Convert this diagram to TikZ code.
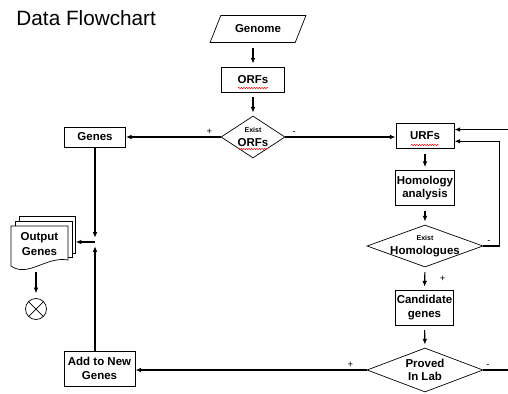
\documentclass[tikz,border=0pt]{standalone}
\usepackage{fontspec}
\setmainfont{Liberation Sans}
\usetikzlibrary{arrows.meta,shapes.geometric,decorations.pathmorphing,calc}
\newcommand{\existtxt}{{\fontsize{6}{7}\selectfont Exist}}

\begin{document}
\begin{tikzpicture}
[x=0.03cm, y=-0.03cm, line width=1pt, >={Latex[length=5pt,width=4pt]},
box/.style={draw,rectangle,line width=0.6pt,inner sep=1pt,align=center,
  font=\fontsize{9.8}{11.5}\selectfont\bfseries},
dec/.style={draw,diamond,line width=0.6pt,inner xsep=-6pt,inner ysep=0pt,align=center,
  font=\fontsize{9.8}{11.5}\selectfont\bfseries},
io/.style={draw,trapezium,trapezium left angle=64,trapezium right angle=116,
  trapezium stretches=true,line width=0.6pt,font=\fontsize{9.8}{11.5}\selectfont\bfseries},
sgn/.style={font=\fontsize{8}{9}\selectfont,inner sep=1.5pt},
down/.style={->,shorten <=4pt,shorten >=2.5pt},
page/.style={line width=0.6pt,fill=white},
squig/.style={red,line width=0.4pt,decorate,decoration={snake,amplitude=0.6pt,segment length=2.2pt}}]

\useasboundingbox (0,0) rectangle (508,393);

\node (title) at (12,25) [anchor=base west,font=\fontsize{17.7}{20}\selectfont] {Data Flowchart};

\node (genome) at (258,29) [io,minimum width=2.88cm,minimum height=0.81cm] {Genome};
\node (orfs) at (253,79.5) [box,minimum width=1.89cm,minimum height=0.75cm] {ORFs};
\node (exorfs) at (253,137) [dec,aspect=1.5,minimum width=1.92cm,minimum height=1.26cm] {\existtxt\\ORFs};
\node (genes) at (95,137) [box,minimum width=1.83cm,minimum height=0.6cm] {Genes};
\node (urfs) at (425,136) [box,minimum width=1.74cm,minimum height=0.75cm] {URFs};
\node (homol) at (425,188) [box,minimum width=1.74cm,minimum height=1.05cm] {Homology\\analysis};
\node (exhom) at (425,246) [dec,aspect=2.76,minimum width=3.48cm,minimum height=1.26cm] {\existtxt\\Homologues};
\node (cand) at (424.5,307.5) [box,minimum width=1.74cm,minimum height=1.05cm] {Candidate\\genes};
\node (proved) at (425,370) [dec,aspect=2.64,minimum width=3.48cm,minimum height=1.32cm] {Proved\\In Lab};
\node (addnew) at (99.5,368.5) [box,minimum width=2.13cm,minimum height=1.05cm] {Add to New\\Genes};

% output pages
\draw[page] (19,221) -- (19,216) -- (75,216) -- (75,253) -- (72,253);
\draw[page] (15,226) -- (15,221) -- (72,221) -- (72,257) -- (68,257);
\draw[page] (11,226) -- (68,226) -- (68,260) .. controls (46,256) and (28,278) .. (11,266) -- cycle;
\node (out) at (39.5,244) [minimum width=1.71cm,minimum height=1.14cm,align=center,
  font=\fontsize{9.8}{12.5}\selectfont\bfseries] {Output\\Genes};
\node (stop) at (36,309) [draw,circle,line width=0.6pt,minimum size=0.63cm,inner sep=0pt] {};
\draw[line width=0.6pt] (stop.north west) -- (stop.south east) (stop.north east) -- (stop.south west);

\coordinate (jn) at (95,242);
\coordinate (outb) at (36,272);

\draw[down] (genome.south -| orfs.north) -- (orfs.north);
\draw[down] (orfs.south) -- (exorfs.north);
\draw[->] (exorfs.west) -- node[sgn,above,pos=0.12] {+} (genes.east);
\draw[->] (exorfs.east) -- node[sgn,above,pos=0.08] {-} (exorfs.east -| urfs.west);
\draw[down] (urfs.south) -- (homol.north);
\draw[down] (homol.south) -- (exhom.north);
\draw[down] (exhom.south) -- node[sgn,right,xshift=11pt] {+} (cand.north);
\draw[down] (cand.south) -- (proved.north);
\draw[->] (exhom.east) -- node[sgn,above,pos=0.35] {-} ++(16,0) |- ([yshift=-4.5pt]urfs.east);
\draw[->] (proved.west) -- node[sgn,above,pos=0.07] {+} (proved.west -| addnew.east);
\draw[->] (proved.east) -- node[sgn,above,pos=0.15] {-} ++(30,0) |- ([yshift=5.5pt]urfs.east);

\draw[->,shorten >=3.5pt] (genes.south) -- (genes.south |- jn);
\draw[->,shorten >=3.5pt] (addnew.north -| jn) -- (jn);
\draw[->,shorten >=6pt] (jn) -- (out.east |- jn);
\draw[->,shorten >=4pt] (outb) -- (stop.north);

% spell-check marks
\draw[squig] ($(orfs)+(-15,8.5)$) -- ++(30,0);
\draw[squig] ($(exorfs)+(-15,12)$) -- ++(30,0);
\draw[squig] ($(urfs)+(-14,9)$) -- ++(28,0);

\end{tikzpicture}
\end{document}
